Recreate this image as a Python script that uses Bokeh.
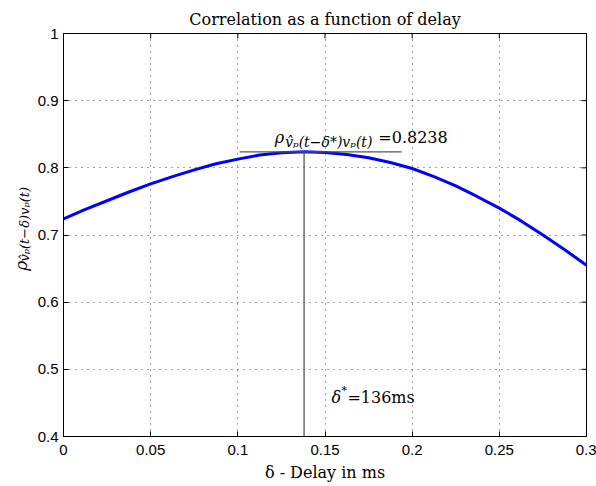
import math
from bokeh.plotting import figure
from bokeh.layouts import row
from bokeh.models import Range1d, Label, FixedTicker
from bokeh.embed import file_html
from bokeh.resources import INLINE

# ---- data ----
delay = [0.0, 0.0125, 0.025, 0.0375, 0.05, 0.0625, 0.075, 0.0875, 0.1, 0.1125, 0.125, 0.138,
         0.15, 0.1625, 0.175, 0.1875, 0.2, 0.2125, 0.225, 0.2375, 0.25, 0.2625, 0.275, 0.2875, 0.3]
corr = [0.724, 0.738, 0.751, 0.764, 0.776, 0.787, 0.797, 0.806, 0.813, 0.819, 0.8225, 0.8238,
        0.8228, 0.8200, 0.8150, 0.8080, 0.799, 0.787, 0.773, 0.757, 0.740, 0.721, 0.700, 0.678, 0.655]
x_ticks = [0, 0.05, 0.1, 0.15, 0.2, 0.25, 0.3]
x_tick_labels = ["0", "0.05", "0.1", "0.15", "0.2", "0.25", "0.3"]
y_ticks = [0.4, 0.5, 0.6, 0.7, 0.8, 0.9, 1.0]
y_tick_labels = ["0.4", "0.5", "0.6", "0.7", "0.8", "0.9", "1"]
delta_star = 0.138
rho_max = 0.8238
hline_x = [0.101, 0.194]
title_text = "Correlation as a function of delay"
xlabel_text = "δ - Delay in ms"
ylabel_sub_text = "v\u0302\u209a(t−δ)v\u209a(t)"
peak_sub_text = "v\u0302\u209a(t−δ*)v\u209a(t)"
peak_value_text = "=0.8238"
delay_value_text = "=136ms"

W, H = 596, 486
LW = 34                      # width of the strip that holds the y label
L, R, T, B = 61, 10, 33, 50  # frame margins in the whole picture
X0, X1, Y0, Y1 = 0.0, 0.3, 0.4, 1.0
FW, FH = W - L - R, H - T - B

def X(px):
    return X0 + (px - L) / FW * (X1 - X0)

def Y(py):
    return Y1 - (py - T) / FH * (Y1 - Y0)

TICK_FONT = "Liberation Sans"
SERIF = "DejaVu Serif"

# ---------------- main plot ----------------
p = figure(width=W - LW, height=H, output_backend="svg", toolbar_location=None,
           x_range=Range1d(X0, X1), y_range=Range1d(Y0, Y1),
           min_border_left=L - LW, min_border_right=R, min_border_top=T, min_border_bottom=B)
p.background_fill_color = "white"
p.border_fill_color = "white"
p.outline_line_color = "black"
p.outline_line_width = 1

p.title.text = title_text
p.title.align = "center"
p.title.text_font = SERIF
p.title.text_font_size = "16px"
p.title.text_font_style = "normal"
p.title.text_color = "black"

for ax, ticks, labels in ((p.xaxis[0], x_ticks, x_tick_labels), (p.yaxis[0], y_ticks, y_tick_labels)):
    ax.ticker = FixedTicker(ticks=ticks)
    ax.major_label_overrides = {t: s for t, s in zip(ticks, labels)}
    ax.major_tick_in = 5
    ax.major_tick_out = 0
    ax.minor_tick_line_color = None
    ax.axis_line_color = "black"
    ax.major_tick_line_color = "black"
    ax.major_label_text_font = TICK_FONT
    ax.major_label_text_font_size = "15px"
    ax.major_label_text_color = "black"
p.xaxis[0].major_label_standoff = 8
p.yaxis[0].major_label_standoff = 5

p.xaxis[0].axis_label = xlabel_text
p.xaxis[0].axis_label_text_font = SERIF
p.xaxis[0].axis_label_text_font_size = "16px"
p.xaxis[0].axis_label_text_font_style = "normal"
p.xaxis[0].axis_label_text_color = "black"
p.xaxis[0].axis_label_standoff = 5

p.xgrid.ticker = FixedTicker(ticks=x_ticks)
p.ygrid.ticker = FixedTicker(ticks=y_ticks)
for g in (p.xgrid, p.ygrid):
    g.grid_line_color = "black"
    g.grid_line_alpha = 0.75
    g.grid_line_dash = "1 5"
    g.grid_line_width = 1

# inward ticks on the top and right edges of the box
tick_dx = 5 / FW * (X1 - X0)
tick_dy = 5 / FH * (Y1 - Y0)
p.segment(x0=[X1] * len(y_ticks), y0=y_ticks, x1=[X1 - tick_dx] * len(y_ticks), y1=y_ticks,
          line_color="black", line_width=1)
p.segment(x0=x_ticks, y0=[Y1] * len(x_ticks), x1=x_ticks, y1=[Y1 - tick_dy] * len(x_ticks),
          line_color="black", line_width=1)

p.line(delay, corr, line_color="#0000ff", line_width=3)
p.line(hline_x, [rho_max, rho_max], line_color="#555555", line_width=1.3)
p.line([delta_star, delta_star], [Y0, rho_max], line_color="#555555", line_width=1.3)

def lab(text, px, py, size, style="normal"):
    p.add_layout(Label(x=X(px), y=Y(py), text=text, text_font=SERIF,
                       text_font_size=f"{size}px", text_font_style=style,
                       text_align="left", text_baseline="alphabetic", text_color="black"))

# peak annotation
lab("ρ", 273, 137, 16, "italic")
lab(peak_sub_text, 283.5, 141, 14, "italic")
lab(peak_value_text, 377, 137, 16)

# delay annotation
lab("δ", 330, 397, 16, "italic")
lab("*", 340, 390, 11)
lab(delay_value_text, 346, 397, 16)

# ---------------- strip with the rotated y label ----------------
q = figure(width=LW, height=H, output_backend="svg", toolbar_location=None,
           x_range=Range1d(0, LW), y_range=Range1d(0, H),
           x_axis_location=None, y_axis_location=None,
           min_border_left=0, min_border_right=0, min_border_top=0, min_border_bottom=0)
q.outline_line_color = None
q.background_fill_color = "white"
q.border_fill_color = "white"
q.xgrid.visible = False
q.ygrid.visible = False

def ylab(text, px, py, size, style="italic"):
    q.add_layout(Label(x=px, y=H - py, text=text, text_font=SERIF,
                       text_font_size=f"{size}px", text_font_style=style,
                       text_align="left", text_baseline="alphabetic",
                       text_color="black", angle=math.pi / 2))

y_start = 286
ylab("ρ", 20, y_start, 17)
ylab(ylabel_sub_text, 23.5, y_start - 11, 13)

layout = row(q, p, spacing=0)
open("out.html", "w").write(file_html(layout, INLINE))
